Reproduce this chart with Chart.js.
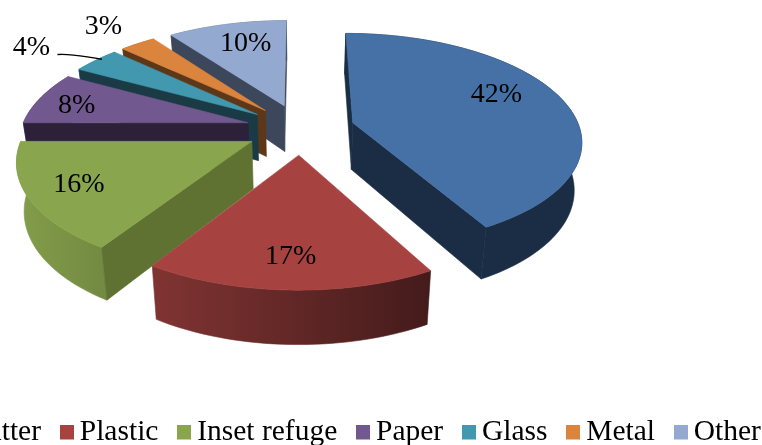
<!DOCTYPE html>
<html>
<head>
<meta charset="utf-8">
<script src="https://cdn.jsdelivr.net/npm/chart.js@4/dist/chart.umd.js"></script>
<style>
html,body{margin:0;padding:0;width:762px;height:445px;overflow:hidden;background:#fff}
#c{position:absolute;left:-198px;top:0}
</style>
</head>
<body>
<canvas id="c" width="1000" height="457"></canvas>
<script>
// --- data ---
const categories = ["Organic matter","Plastic","Inset refuge","Paper","Glass","Metal","Other"];
const shares = [42,17,16,8,4,3,10];
// --- styles ---
const topColors = ["#4571A6","#A64341","#89A54E","#71588F","#4198AF","#DB843D","#93A9CF"];
const wallColors = ["#1A2D44","#6B2B2A","#5F7232","#2C2139","#1A3B46","#5E3719","#3D475C"];
const rgbOf = h => [1,3,5].map(i => parseInt(h.substr(i,2),16));
const explode = [24,24,24,24,24,24,24];
const labelDX = [-3.5,-2,-20.5,-24.5,-110,-70,3];
const labelDY = [-10.5,12.5,4.5,0.5,-28,-35.5,-2.5];
const drawOrder = [6,5,4,3,0,2,1];
const FONT = '"Liberation Serif","Times New Roman",serif';
// --- view ---
const view = {cx:300.5+198, cy:129, sx:227, sy:105, p:0.155, depth:47, depthV:6, shrink:0.027};

function project(u,v){
  const s = 1/(1-view.p*v);
  return {x:view.cx+u*view.sx*s, y:view.cy+v*view.sy*s, v};
}
function base(pt){
  return {x:view.cx+(pt.x-view.cx)*(1-view.shrink), y:pt.y+view.depth+view.depthV*pt.v};
}
function sliceGeom(el){
  const o = el.options.offset/100, mid=(el.startAngle+el.endAngle)/2;
  const au=Math.cos(mid)*o, av=Math.sin(mid)*o;
  const rim=[]; const n=Math.max(6,Math.ceil((el.endAngle-el.startAngle)/0.03));
  for(let i=0;i<=n;i++){
    const a=el.startAngle+(el.endAngle-el.startAngle)*i/n;
    rim.push(project(au+Math.cos(a),av+Math.sin(a)));
  }
  return {au,av,mid,rim,apex:project(au,av)};
}
function poly(ctx,pts,fill){
  ctx.beginPath();
  pts.forEach((p,i)=>i?ctx.lineTo(p.x,p.y):ctx.moveTo(p.x,p.y));
  ctx.closePath();
  ctx.fillStyle=fill; ctx.strokeStyle=fill; ctx.lineWidth=0.6;
  ctx.fill(); ctx.stroke();
}
function wallGradient(ctx,hex){
  const g=ctx.createLinearGradient(view.cx-281,0,view.cx+129,0);
  const c=rgbOf(hex);
  const col=f=>`rgb(${c.map(k=>Math.round(k*f)).join(',')})`;
  g.addColorStop(0,col(0.95)); g.addColorStop(0.33,col(0.77)); g.addColorStop(1,col(0.41));
  return g;
}
function wallVisible(a,p,m){
  const ex=p.x-a.x, ey=p.y-a.y;
  const interior=ex*(m.y-a.y)-ey*(m.x-a.x);
  const bp=base(p), ba=base(a);
  const dx=((bp.x-p.x)+(ba.x-a.x))/2, dy=((bp.y-p.y)+(ba.y-a.y))/2;
  return interior*(ex*dy-ey*dx)<0;
}
const pie3d = {
  id:'pie3d',
  beforeDatasetDraw(chart,args){
    const ctx=chart.ctx, meta=chart.getDatasetMeta(args.index);
    ctx.save();
    drawOrder.forEach(i=>{
      const el=meta.data[i], g=sliceGeom(el), a=g.apex, ab=base(a);
      const first=g.rim[0], last=g.rim[g.rim.length-1], m=g.rim[g.rim.length>>1];
      const wall=g.rim.concat(g.rim.slice().reverse().map(base));
      poly(ctx,wall,i===0?wallColors[0]:wallGradient(ctx,topColors[i]));
      if(wallVisible(a,first,m)) poly(ctx,[a,first,base(first),ab],wallColors[i]);
      if(wallVisible(a,last,m)) poly(ctx,[a,last,base(last),ab],wallColors[i]);
      poly(ctx,[a].concat(g.rim),topColors[i]);
    });
    // labels
    ctx.fillStyle='#000'; ctx.textAlign='center'; ctx.textBaseline='middle';
    ctx.font='28px '+FONT;
    meta.data.forEach((el,i)=>{
      const g=sliceGeom(el);
      const m=project(g.au+Math.cos(g.mid)*0.7,g.av+Math.sin(g.mid)*0.7);
      ctx.fillText(shares[i]+'%',m.x+labelDX[i],m.y+labelDY[i]);
    });
    // leader line for the Glass label
    const gi=categories.indexOf("Glass"), gg=sliceGeom(meta.data[gi]);
    const end=project(gg.au+Math.cos(gg.mid),gg.av+Math.sin(gg.mid));
    const m0=project(gg.au+Math.cos(gg.mid)*0.7,gg.av+Math.sin(gg.mid)*0.7);
    const lx=m0.x+labelDX[gi]+26, ly=m0.y+labelDY[gi]+7;
    ctx.beginPath(); ctx.moveTo(lx,ly);
    ctx.bezierCurveTo(lx+14,ly-1,lx+20,ly+1,end.x+6,end.y-1);
    ctx.strokeStyle='#000'; ctx.lineWidth=1.4; ctx.stroke();
    ctx.restore();
    return false;
  },
  afterDraw(chart){
    const ctx=chart.ctx, boxes=chart.legend.legendHitBoxes;
    ctx.save();
    boxes.forEach((b,i)=>{
      ctx.fillStyle=topColors[i];
      ctx.fillRect(Math.round(b.left)+1,Math.round(b.top+b.height/2-7.5),14,14.5);
    });
    ctx.restore();
  }
};
new Chart(document.getElementById('c'),{
  type:'pie',
  plugins:[pie3d],
  data:{labels:categories,datasets:[{data:shares,backgroundColor:topColors,offset:explode,borderWidth:0}]},
  options:{
    responsive:false,animation:false,devicePixelRatio:1,
    layout:{padding:{bottom:0}},
    plugins:{
      tooltip:{enabled:false},
      legend:{
        position:'bottom',
        labels:{
          boxWidth:6,boxHeight:14,padding:18,color:'#000',
          font:{family:FONT,size:29.5},
          generateLabels(chart){
            return Chart.overrides.pie.plugins.legend.labels.generateLabels(chart)
              .map(l=>Object.assign(l,{fillStyle:'rgba(0,0,0,0)',strokeStyle:'rgba(0,0,0,0)',lineWidth:0}));
          }
        }
      }
    }
  }
});
</script>
</body>
</html>
